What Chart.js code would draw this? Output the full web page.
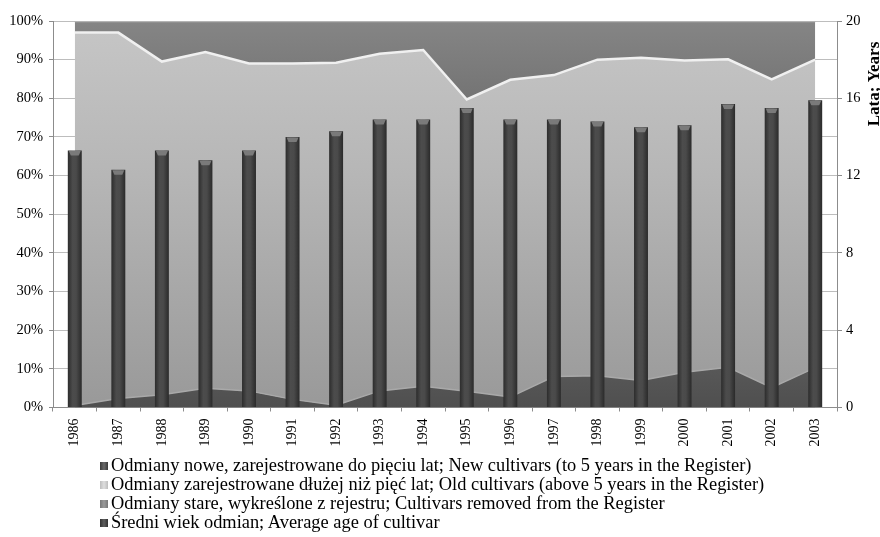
<!DOCTYPE html>
<html>
<head>
<meta charset="utf-8">
<title>Odmiany w rejestrze 1986–2003</title>
<script src="https://cdn.jsdelivr.net/npm/chart.js@4/dist/chart.umd.min.js"></script>
<style>
  html, body { margin: 0; padding: 0; background: #fff; }
  #wrap { position: relative; width: 880px; height: 537px; overflow: hidden; }
  #chart { display: block; }
  #legend {
    position: absolute; left: 100px; top: 456px;
    font-family: "Liberation Serif", "Times New Roman", serif;
    font-size: 18.4px; line-height: 19px; color: #000; white-space: nowrap;
  }
  #legend .row { display: flex; align-items: center; height: 19px; }
  #legend .sw { display: inline-block; width: 8px; height: 8px; margin-right: 3px; flex: none; }
</style>
</head>
<body>
<div id="wrap">
  <canvas id="chart" width="880" height="537"></canvas>
  <div id="legend"></div>
</div>
<script>
// Years on the category axis
const years = ['1986','1987','1988','1989','1990','1991','1992','1993','1994',
               '1995','1996','1997','1998','1999','2000','2001','2002','2003'];

// Share of cultivars in the Register, % (stacked to 100)
const newCultivars     = [0.5, 2.3, 3.3, 5.0, 4.3, 2.1, 0.6, 4.3, 5.5, 4.2, 2.7, 8.0, 8.2, 7.0, 9.1, 10.4, 5.1, 10.3];
const oldCultivars     = [96.5, 94.7, 86.2, 87.0, 84.7, 86.9, 88.6, 87.2, 87.0, 75.5, 82.1, 78.0, 81.8, 83.5, 80.7, 79.7, 79.8, 79.7];
const removedCultivars = [3.0, 3.0, 10.5, 8.0, 11.0, 11.0, 10.8, 8.5, 7.5, 20.3, 15.2, 14.0, 10.0, 9.5, 10.2, 9.9, 15.1, 10.0];

// Average age of cultivars, years (right axis)
const averageAge = [13.3, 12.3, 13.3, 12.8, 13.3, 14.0, 14.3, 14.9, 14.9, 15.5, 14.9, 14.9, 14.8, 14.5, 14.6, 15.7, 15.5, 15.9];

// Series names and axis title
const seriesLabels = [
  'Odmiany nowe, zarejestrowane do pięciu lat; New cultivars (to 5 years in the Register)',
  'Odmiany zarejestrowane dłużej niż pięć lat; Old cultivars (above 5 years in the Register)',
  'Odmiany stare, wykreślone z rejestru; Cultivars removed from the Register',
  'Średni wiek odmian; Average age of cultivar'
];
const ageAxisTitle = 'Lata; Years';

const serif = '"Liberation Serif", "Times New Roman", serif';
const axisGray = '#8c8c8c';
const barShare = 0.32;

// vertical gradient spanning the plot area
function vGrad(ctx, stops) {
  const { chart } = ctx;
  const area = chart.chartArea;
  if (!area) return stops[0][1];
  const g = chart.ctx.createLinearGradient(0, area.top, 0, area.bottom);
  stops.forEach(([o, c]) => g.addColorStop(o, c));
  return g;
}

// horizontal gradient across one bar, giving a rounded column look
function barGrad(ctx) {
  const { chart, dataIndex } = ctx;
  const x = chart.scales.x;
  if (!chart.chartArea || !x) return '#444';
  const cx = x.getPixelForValue(dataIndex);
  const w = (x.width / years.length) * barShare;
  const g = chart.ctx.createLinearGradient(cx - w / 2, 0, cx + w / 2, 0);
  g.addColorStop(0, '#2c2c2c');
  g.addColorStop(0.35, '#4c4c4c');
  g.addColorStop(0.6, '#4a4a4a');
  g.addColorStop(1, '#2a2a2a');
  return g;
}

// lighter bevelled cap on top of each column
const barCapPlugin = {
  id: 'barCap',
  afterDatasetsDraw(chart) {
    const { ctx } = chart;
    chart.getSortedVisibleDatasetMetas().forEach(meta => {
      if (meta.type !== 'bar') return;
      meta.data.forEach(bar => {
        const { x, y, width } = bar.getProps(['x', 'y', 'width'], true);
        const h = Math.min(5, width * 0.4);
        ctx.save();
        ctx.beginPath();
        ctx.moveTo(x - width / 2 + 1, y + 0.5);
        ctx.lineTo(x + width / 2 - 1, y + 0.5);
        ctx.lineTo(x + width / 2 - 3, y + h);
        ctx.lineTo(x - width / 2 + 3, y + h);
        ctx.closePath();
        ctx.fillStyle = '#7a7a7a';
        ctx.fill();
        ctx.restore();
      });
    });
  }
};

// right-hand axis title, reading bottom to top
const ageTitlePlugin = {
  id: 'ageTitle',
  afterDraw(chart) {
    const { ctx, chartArea } = chart;
    ctx.save();
    ctx.translate(chart.width - 1, chartArea.top + 63);
    ctx.rotate(-Math.PI / 2);
    ctx.font = 'bold 17px ' + serif;
    ctx.fillStyle = '#000';
    ctx.textAlign = 'center';
    ctx.textBaseline = 'alphabetic';
    ctx.fillText(ageAxisTitle, 0, 0);
    ctx.restore();
  }
};

const legendSwatches = [
  'linear-gradient(90deg,#3a3a3a,#6a6a6a,#3a3a3a)',
  'linear-gradient(90deg,#bdbdbd,#dedede,#bdbdbd)',
  'linear-gradient(90deg,#777,#9a9a9a,#777)',
  'linear-gradient(90deg,#333,#5e5e5e,#333)'
];

const chart = new Chart(document.getElementById('chart'), {
  type: 'bar',
  data: {
    labels: years,
    datasets: [
      {
        type: 'line', label: seriesLabels[0], data: newCultivars, yAxisID: 'y', order: 1,
        fill: 'origin', tension: 0, pointRadius: 0, borderWidth: 1.5,
        borderColor: '#a9a9a9',
        backgroundColor: c => vGrad(c, [[0, '#646464'], [0.85, '#5c5c5c'], [1, '#4f4f4f']])
      },
      {
        type: 'line', label: seriesLabels[1], data: oldCultivars, yAxisID: 'y', order: 1,
        fill: '-1', tension: 0, pointRadius: 0, borderWidth: 2.5,
        borderColor: '#f0f0f0',
        backgroundColor: c => vGrad(c, [[0, '#c6c6c6'], [0.4, '#b6b6b6'], [1, '#999999']])
      },
      {
        type: 'line', label: seriesLabels[2], data: removedCultivars, yAxisID: 'y', order: 1,
        fill: '-1', tension: 0, pointRadius: 0, borderWidth: 2.5,
        borderColor: '#b4b4b4',
        backgroundColor: c => vGrad(c, [[0, '#858585'], [0.25, '#707070'], [1, '#666666']])
      },
      {
        type: 'bar', label: seriesLabels[3], data: averageAge, yAxisID: 'y2', order: 0,
        categoryPercentage: 1, barPercentage: barShare,
        backgroundColor: barGrad, borderWidth: 0
      }
    ]
  },
  options: {
    responsive: false,
    animation: false,
    layout: { padding: { top: 21, left: 0, right: 0, bottom: 0 } },
    plugins: { legend: { display: false }, tooltip: { enabled: false } },
    scales: {
      x: {
        type: 'category', offset: true,
        grid: { offset: true, drawOnChartArea: false, tickLength: 4, tickColor: axisGray },
        border: { color: axisGray },
        ticks: { autoSkip: false, minRotation: 90, maxRotation: 90, padding: 7, color: '#000',
                 font: { family: serif, size: 14 } },
        afterFit: s => { s.height = 129.5; }
      },
      y: {
        position: 'left', stacked: true, min: 0, max: 100,
        grid: { color: '#bdbdbd', tickColor: axisGray, tickLength: 4 },
        border: { color: axisGray },
        ticks: { stepSize: 10, padding: 6, color: '#000', callback: v => v + '%',
                 font: { family: serif, size: 14.5 } },
        afterFit: s => { s.width = 53; }
      },
      y2: {
        position: 'right', min: 0, max: 20,
        grid: { drawOnChartArea: false, tickLength: 5, tickColor: axisGray },
        border: { color: axisGray },
        ticks: { stepSize: 4, padding: 4, color: '#000', font: { family: serif, size: 14.5 } },
        afterFit: s => { s.width = 43; }
      }
    }
  },
  plugins: [barCapPlugin, ageTitlePlugin]
});

// legend below the plot, one series per row
const legendEl = document.getElementById('legend');
chart.data.datasets.forEach((ds, i) => {
  const row = document.createElement('div');
  row.className = 'row';
  const sw = document.createElement('span');
  sw.className = 'sw';
  sw.style.background = legendSwatches[i];
  row.appendChild(sw);
  row.appendChild(document.createTextNode(ds.label));
  legendEl.appendChild(row);
});
</script>
</body>
</html>
